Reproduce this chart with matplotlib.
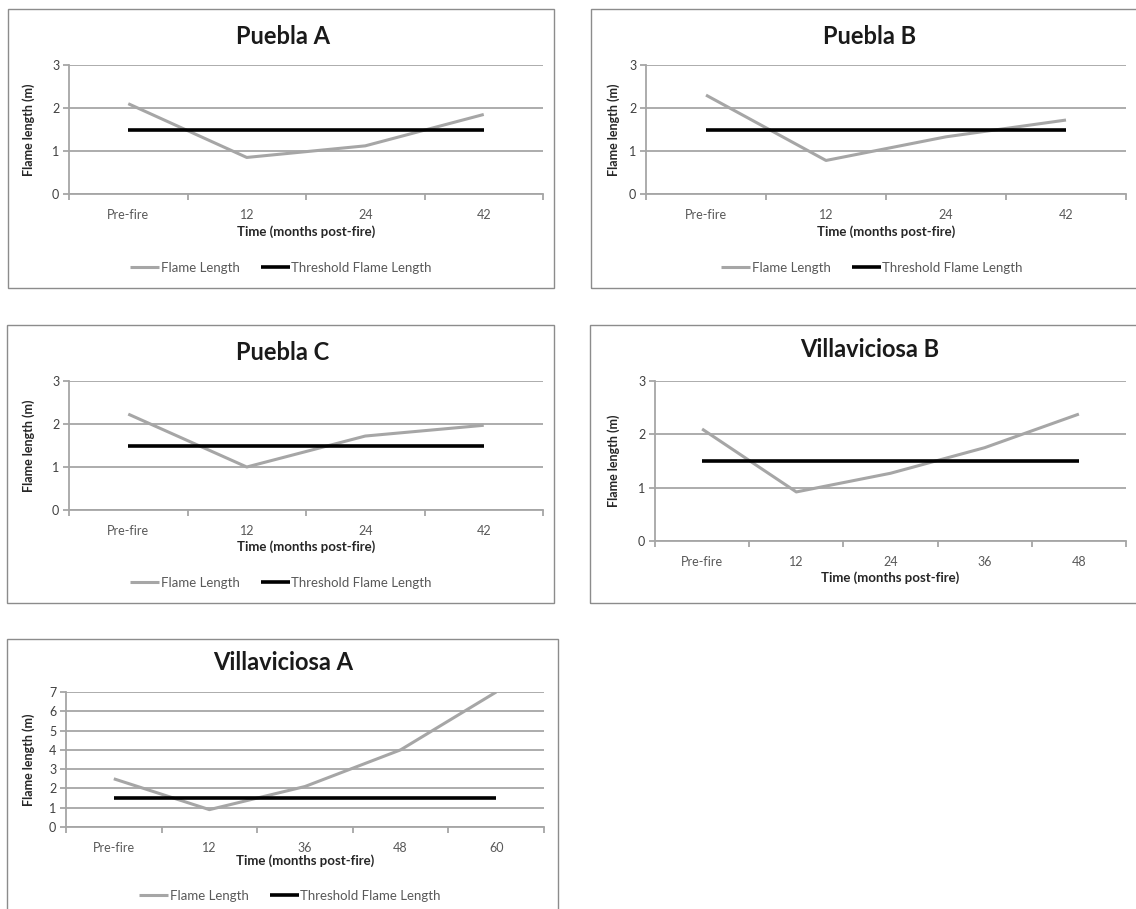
import matplotlib
matplotlib.use("Agg")
import matplotlib.pyplot as plt
from matplotlib.patches import Rectangle

plt.rcParams['font.family'] = ['Lato', 'DejaVu Sans']

W, H = 1136, 909

# ---- data ----
titles = ["Puebla A", "Puebla B", "Puebla C", "Villaviciosa B", "Villaviciosa A"]
cats_4 = ["Pre-fire", "12", "24", "42"]
cats_vb = ["Pre-fire", "12", "24", "36", "48"]
cats_va = ["Pre-fire", "12", "36", "48", "60"]
puebla_a = [2.1, 0.85, 1.12, 1.85]
puebla_b = [2.3, 0.78, 1.33, 1.72]
puebla_c = [2.23, 1.0, 1.72, 1.97]
villaviciosa_b = [2.1, 0.92, 1.27, 1.75, 2.38]
villaviciosa_a = [2.5, 0.9, 2.1, 4.0, 7.0]
threshold = 1.5
y_max_small = 3
y_max_va = 7

GRAY_LINE = "#a6a6a6"
GRID = "#a6a6a6"
TXT = "#595959"

fig = plt.figure(figsize=(W / 100, H / 100), dpi=100)


def px_rect(l, t, r, b):
    return [l / W, 1 - b / H, (r - l) / W, (b - t) / H]


def fx(x):
    return x / W


def fy(y):
    return 1 - y / H


panels = [
    dict(title=titles[0], cats=cats_4, vals=puebla_a, ymax=y_max_small,
         box=(8, 9, 554, 288), ax=(69, 65, 543, 194), title_xy=(283, 36),
         xt_y=212, xl_y=232, leg=(281, 268), ylab_x=29),
    dict(title=titles[1], cats=cats_4, vals=puebla_b, ymax=y_max_small,
         box=(591, 9, 1150, 288), ax=(646, 65, 1126, 194), title_xy=(870, 36),
         xt_y=212, xl_y=232, leg=(872, 268), ylab_x=614),
    dict(title=titles[2], cats=cats_4, vals=puebla_c, ymax=y_max_small,
         box=(7, 325, 554, 603), ax=(69, 381, 543, 510), title_xy=(283, 352),
         xt_y=527, xl_y=547, leg=(281, 583), ylab_x=29),
    dict(title=titles[3], cats=cats_vb, vals=villaviciosa_b, ymax=y_max_small,
         box=(590, 325, 1150, 603), ax=(655, 381, 1126, 541), title_xy=(870, 350),
         xt_y=558, xl_y=578, leg=None, ylab_x=614),
    dict(title=titles[4], cats=cats_va, vals=villaviciosa_a, ymax=y_max_va,
         box=(7, 639, 558, 915), ax=(66, 692, 544, 827), title_xy=(283, 663),
         xt_y=843, xl_y=861, leg=(290, 896), ylab_x=29),
]

for p in panels:
    l, t, r, b = p["box"]
    fig.patches.append(Rectangle((fx(l), fy(b)), (r - l) / W, (b - t) / H,
                                 transform=fig.transFigure, fill=False,
                                 edgecolor="#8c8c8c", linewidth=1.0, zorder=0))
    al, at, ar, ab = p["ax"]
    ax = fig.add_axes(px_rect(al, at, ar, ab))
    n = len(p["cats"])
    xs = list(range(n))
    ax.set_xlim(-0.5, n - 0.5)
    ax.set_ylim(0, p["ymax"])
    ax.set_yticks(range(0, p["ymax"] + 1))
    ax.grid(axis="y", color=GRID, linewidth=1.3)
    ax.set_axisbelow(True)
    for s in ["top", "right"]:
        ax.spines[s].set_visible(False)
    for s in ["left", "bottom"]:
        ax.spines[s].set_color(GRID)
        ax.spines[s].set_linewidth(1.3)
    ax.set_xticks(xs)
    ax.set_xticklabels(p["cats"])
    ax.tick_params(axis="x", which="major", length=0, labelsize=9, colors=TXT, pad=11)
    ax.set_xticks([i - 0.5 for i in range(n + 1)], minor=True)
    ax.tick_params(axis="x", which="minor", length=4, color=GRID, width=1.3)
    ax.tick_params(axis="y", length=4, color=GRID, width=1.3, labelsize=9,
                   colors=TXT, pad=3)
    for lab in ax.get_yticklabels():
        lab.set_color("#404040")
    ax.plot(xs, p["vals"], color=GRAY_LINE, linewidth=2.2, solid_capstyle="butt",
            label="Flame Length", zorder=3)
    ax.plot(xs, [threshold] * n, color="black", linewidth=2.6, solid_capstyle="butt",
            label="Threshold Flame Length", zorder=4)
    # title
    fig.text(fx(p["title_xy"][0]), fy(p["title_xy"][1]), p["title"], ha="center",
             va="center", fontsize=17, fontweight="bold", color="#1a1a1a")
    # x label
    fig.text(fx((al + ar) / 2), fy(p["xl_y"]), "Time (months post-fire)", ha="center",
             va="center", fontsize=9.5, fontweight="bold", color="#262626")
    # y label
    fig.text(fx(p["ylab_x"]), fy((at + ab) / 2), "Flame length (m)", ha="center",
             va="center", rotation=90, fontsize=9, fontweight="bold", color="#262626")
    if p["leg"] is not None:
        h, lb = ax.get_legend_handles_labels()
        fig.legend(h, lb, loc="center", bbox_to_anchor=(fx(p["leg"][0]), fy(p["leg"][1])),
                   ncol=2, frameon=False, fontsize=9.5, handlelength=2.2,
                   handletextpad=0.1, columnspacing=1.6, labelcolor=TXT)

fig.savefig("out.png", dpi=100)
